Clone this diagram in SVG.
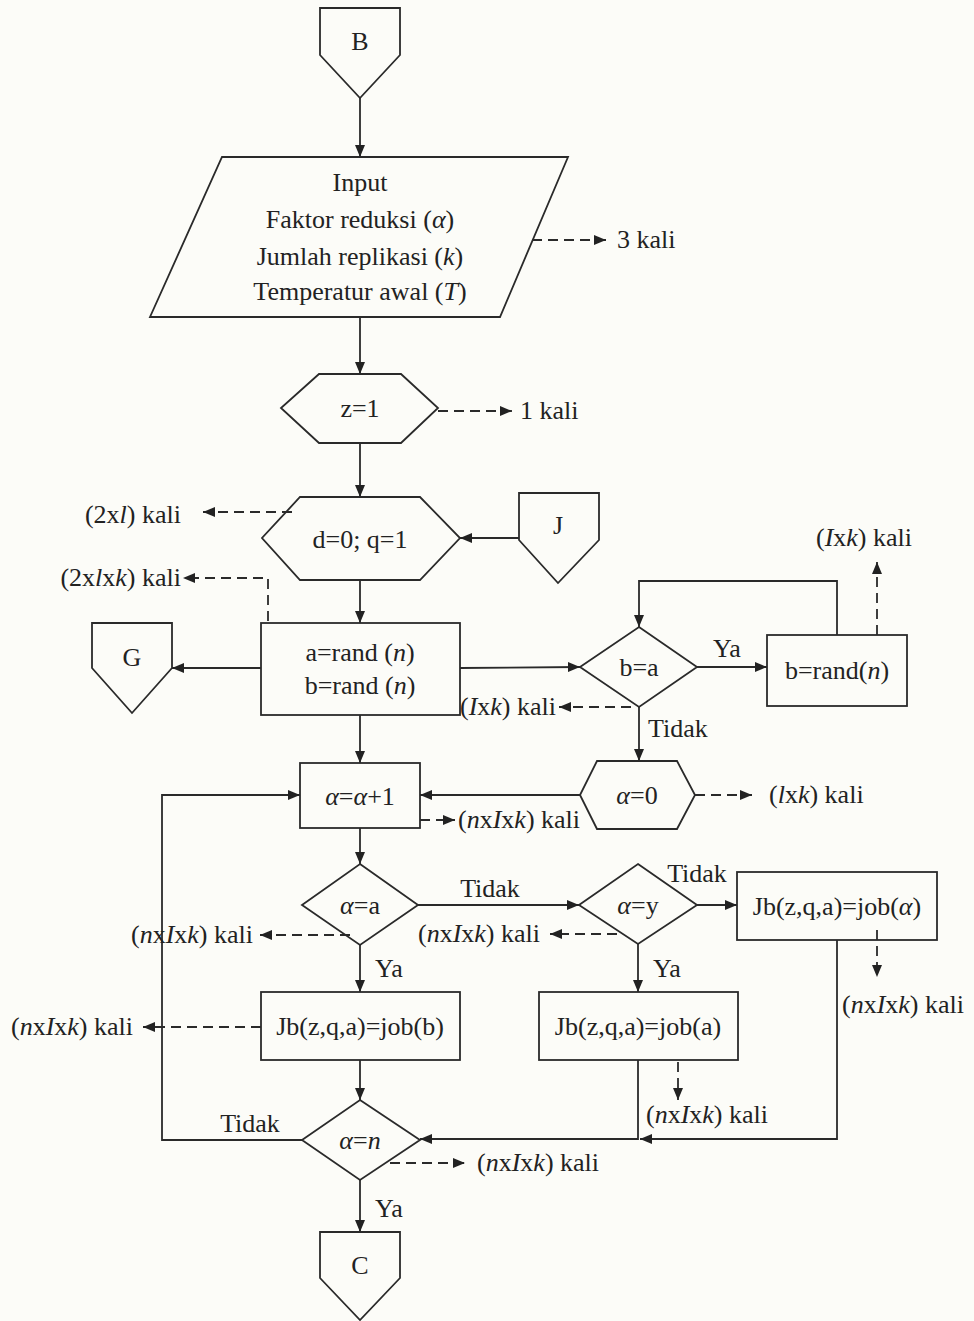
<svg xmlns="http://www.w3.org/2000/svg" width="974" height="1321" viewBox="0 0 974 1321">
  <defs>
    <marker id="arrow" markerUnits="userSpaceOnUse" markerWidth="13" markerHeight="11" refX="12" refY="5.5" orient="auto">
      <path d="M0,0.5 L12,5.5 L0,10.5 z" fill="#222"/>
    </marker>
    <style>
      .shape { fill: none; stroke: #2a2a2a; stroke-width: 1.8; }
      .flow { fill: none; stroke: #2a2a2a; stroke-width: 1.8; marker-end: url(#arrow); }
      .dasharrow { fill: none; stroke: #2a2a2a; stroke-width: 1.8; stroke-dasharray: 10 6; marker-end: url(#arrow); }
      text { font-family: "Liberation Serif", "Times New Roman", serif; font-size: 26px; fill: #222; }
      .c { text-anchor: middle; }
      .e { text-anchor: end; }
      .i { font-style: italic; }
    </style>
  </defs>

  <rect width="974" height="1321" fill="#fcfcf8"/>

  <!-- connectors -->
  <g id="connectors">
    <path class="flow" d="M360,98 V157"/>
    <path class="flow" d="M360,317 V374"/>
    <path class="flow" d="M360,443 V497"/>
    <path class="flow" d="M519,538 H460"/>
    <path class="flow" d="M360,580 V623"/>
    <path class="flow" d="M261,668 H172"/>
    <path class="flow" d="M460,668 L580,667"/>
    <path class="flow" d="M697,667 H767"/>
    <path class="flow" d="M837,635 V581 H639 V627"/>
    <path class="flow" d="M639,707 V761"/>
    <path class="flow" d="M580,795 H420"/>
    <path class="flow" d="M360,715 V763"/>
    <path class="flow" d="M360,828 V864"/>
    <path class="flow" d="M418,905 H579"/>
    <path class="flow" d="M697,905 H737"/>
    <path class="flow" d="M360,945 V992"/>
    <path class="flow" d="M638,944 V992"/>
    <path class="flow" d="M360,1060 V1100"/>
    <path class="flow" d="M837,940 V1139 H640"/>
    <path class="flow" d="M638,1060 V1139 H420"/>
    <path class="flow" d="M302,1140 H162 V795 H300"/>
    <path class="flow" d="M360,1180 V1232"/>

    <!-- dashed count annotations -->
    <path class="dasharrow" d="M532,240 H606"/>
    <path class="dasharrow" d="M438,411 H512"/>
    <path class="dasharrow" d="M292,512 H203"/>
    <path class="dasharrow" d="M268,621 V578 H183"/>
    <path class="dasharrow" d="M631,707 H559"/>
    <path class="dasharrow" d="M877,635 V562"/>
    <path class="dasharrow" d="M695,795 H752"/>
    <path class="dasharrow" d="M420,820 H455"/>
    <path class="dasharrow" d="M350,935 H260"/>
    <path class="dasharrow" d="M617,934 H550"/>
    <path class="dasharrow" d="M877,930 V977"/>
    <path class="dasharrow" d="M678,1062 V1100"/>
    <path class="dasharrow" d="M261,1027 H143"/>
    <path class="dasharrow" d="M390,1163 H465"/>
  </g>

  <!-- nodes -->
  <g id="node-B">
    <polygon class="shape" points="320,8 400,8 400,55 360,98 320,55"/>
    <text class="c" x="360" y="50">B</text>
  </g>

  <g id="node-input">
    <polygon class="shape" points="222,157 568,157 500,317 150,317"/>
    <text class="c" x="360" y="191">Input</text>
    <text class="c" x="360" y="228">Faktor reduksi (<tspan class="i">α</tspan>)</text>
    <text class="c" x="360" y="265">Jumlah replikasi (<tspan class="i">k</tspan>)</text>
    <text class="c" x="360" y="300">Temperatur awal (<tspan class="i">T</tspan>)</text>
  </g>

  <g id="node-z">
    <polygon class="shape" points="319,374 401,374 438,408 401,443 319,443 281,408"/>
    <text class="c" x="360" y="417">z=1</text>
  </g>

  <g id="node-dq">
    <polygon class="shape" points="300,497 420,497 460,538 420,580 300,580 262,538"/>
    <text class="c" x="360" y="548">d=0; q=1</text>
  </g>

  <g id="node-J">
    <polygon class="shape" points="519,493 599,493 599,540 558,583 519,540"/>
    <text class="c" x="558" y="534">J</text>
  </g>

  <g id="node-rand">
    <rect class="shape" x="261" y="623" width="199" height="92"/>
    <text class="c" x="360" y="661">a=rand (<tspan class="i">n</tspan>)</text>
    <text class="c" x="360" y="694">b=rand (<tspan class="i">n</tspan>)</text>
  </g>

  <g id="node-G">
    <polygon class="shape" points="92,623 172,623 172,668 132,713 92,668"/>
    <text class="c" x="132" y="666">G</text>
  </g>

  <g id="node-b-eq-a">
    <polygon class="shape" points="639,627 697,667 639,707 580,667"/>
    <text class="c" x="639" y="676">b=a</text>
  </g>

  <g id="node-b-rand">
    <rect class="shape" x="767" y="635" width="140" height="71"/>
    <text class="c" x="837" y="679">b=rand(<tspan class="i">n</tspan>)</text>
  </g>

  <g id="node-alpha0">
    <polygon class="shape" points="597,761 677,761 695,795 677,829 597,829 580,795"/>
    <text class="c" x="637" y="804"><tspan class="i">α</tspan>=0</text>
  </g>

  <g id="node-alpha-inc">
    <rect class="shape" x="300" y="763" width="120" height="65"/>
    <text class="c" x="360" y="805"><tspan class="i">α</tspan>=<tspan class="i">α</tspan>+1</text>
  </g>

  <g id="node-alpha-eq-a">
    <polygon class="shape" points="360,864 418,905 360,945 302,905"/>
    <text class="c" x="360" y="914"><tspan class="i">α</tspan>=a</text>
  </g>

  <g id="node-alpha-eq-y">
    <polygon class="shape" points="638,864 697,905 638,944 579,905"/>
    <text class="c" x="638" y="914"><tspan class="i">α</tspan>=y</text>
  </g>

  <g id="node-job-alpha">
    <rect class="shape" x="737" y="872" width="200" height="68"/>
    <text class="c" x="837" y="915">Jb(z,q,a)=job(<tspan class="i">α</tspan>)</text>
  </g>

  <g id="node-job-b">
    <rect class="shape" x="261" y="992" width="199" height="68"/>
    <text class="c" x="360" y="1035">Jb(z,q,a)=job(b)</text>
  </g>

  <g id="node-job-a">
    <rect class="shape" x="539" y="992" width="199" height="68"/>
    <text class="c" x="638" y="1035">Jb(z,q,a)=job(a)</text>
  </g>

  <g id="node-alpha-eq-n">
    <polygon class="shape" points="360,1100 420,1140 360,1180 302,1140"/>
    <text class="c" x="360" y="1149"><tspan class="i">α</tspan>=<tspan class="i">n</tspan></text>
  </g>

  <g id="node-C">
    <polygon class="shape" points="320,1232 400,1232 400,1278 360,1320 320,1278"/>
    <text class="c" x="360" y="1274">C</text>
  </g>

  <!-- branch labels -->
  <g id="labels">
    <text x="713" y="657">Ya</text>
    <text x="648" y="737">Tidak</text>
    <text class="c" x="490" y="897">Tidak</text>
    <text class="c" x="697" y="882">Tidak</text>
    <text x="375" y="977">Ya</text>
    <text x="653" y="977">Ya</text>
    <text class="c" x="250" y="1132">Tidak</text>
    <text x="375" y="1217">Ya</text>
  </g>

  <!-- execution counts -->
  <g id="counts">
    <text x="617" y="248">3 kali</text>
    <text x="520" y="419">1 kali</text>
    <text class="e" x="181" y="523">(2x<tspan class="i">l</tspan>) kali</text>
    <text class="e" x="181" y="586">(2x<tspan class="i">l</tspan>x<tspan class="i">k</tspan>) kali</text>
    <text class="e" x="556" y="715">(<tspan class="i">I</tspan>x<tspan class="i">k</tspan>) kali</text>
    <text class="c" x="864" y="546">(<tspan class="i">I</tspan>x<tspan class="i">k</tspan>) kali</text>
    <text x="769" y="803">(<tspan class="i">l</tspan>x<tspan class="i">k</tspan>) kali</text>
    <text x="458" y="828">(<tspan class="i">n</tspan>x<tspan class="i">I</tspan>x<tspan class="i">k</tspan>) kali</text>
    <text class="e" x="253" y="943">(<tspan class="i">n</tspan>x<tspan class="i">I</tspan>x<tspan class="i">k</tspan>) kali</text>
    <text class="e" x="540" y="942">(<tspan class="i">n</tspan>x<tspan class="i">I</tspan>x<tspan class="i">k</tspan>) kali</text>
    <text class="c" x="903" y="1013">(<tspan class="i">n</tspan>x<tspan class="i">I</tspan>x<tspan class="i">k</tspan>) kali</text>
    <text class="e" x="133" y="1035">(<tspan class="i">n</tspan>x<tspan class="i">I</tspan>x<tspan class="i">k</tspan>) kali</text>
    <text class="c" x="707" y="1123">(<tspan class="i">n</tspan>x<tspan class="i">I</tspan>x<tspan class="i">k</tspan>) kali</text>
    <text x="477" y="1171">(<tspan class="i">n</tspan>x<tspan class="i">I</tspan>x<tspan class="i">k</tspan>) kali</text>
  </g>
</svg>
